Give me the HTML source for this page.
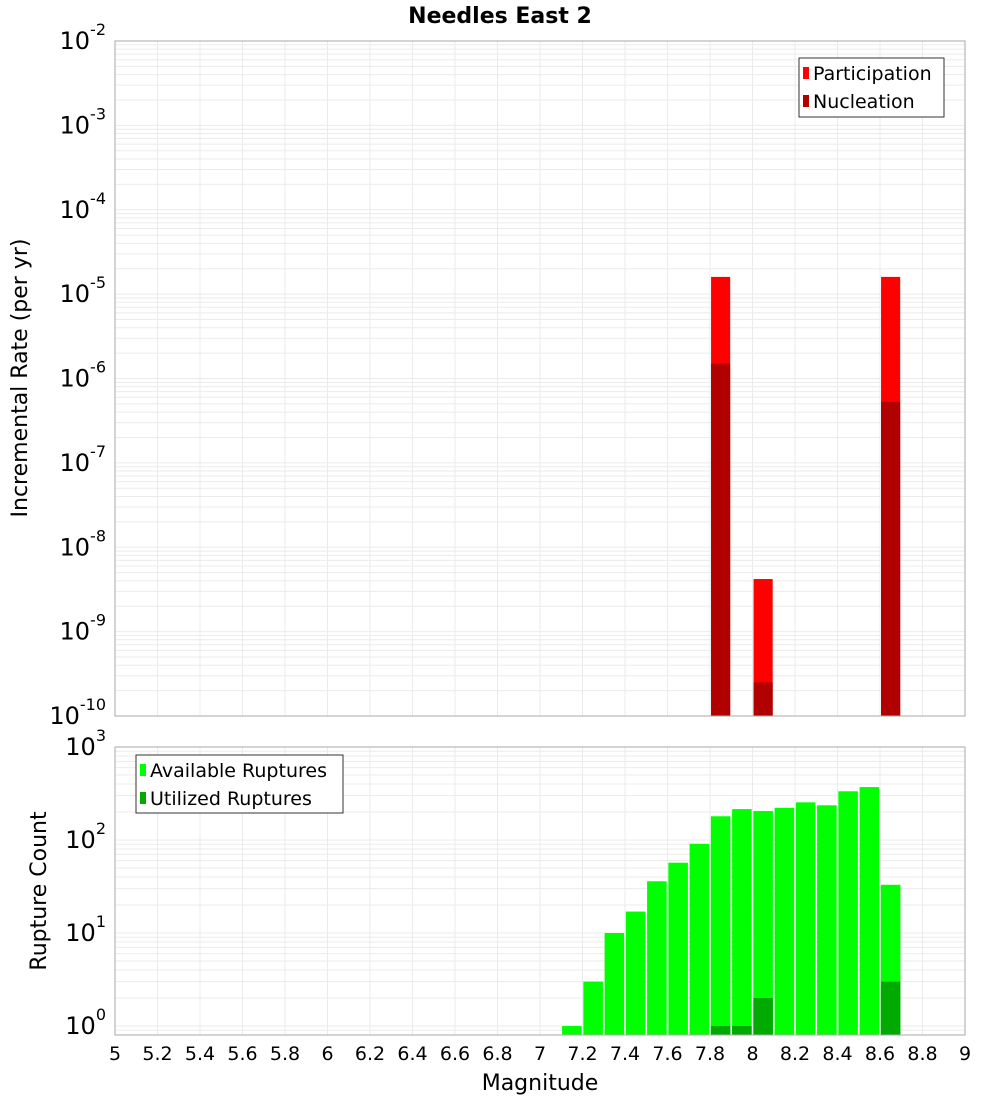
<!DOCTYPE html>
<html><head><meta charset="utf-8"><style>
body{margin:0;background:#fff;font-family:"Liberation Sans","DejaVu Sans",sans-serif}
svg text{font-family:"DejaVu Sans","Liberation Sans",sans-serif}
</style></head><body>
<svg id="c" width="1000" height="1100" xmlns="http://www.w3.org/2000/svg">
<text x="500" y="23" text-anchor="middle" font-size="22" font-weight="bold">Needles East 2</text>
<g id="top"></g>
<g id="bot"></g>
<text transform="translate(27,378) rotate(-90)" text-anchor="middle" font-size="22">Incremental Rate (per yr)</text>
<text transform="translate(46,891) rotate(-90)" text-anchor="middle" font-size="22">Rupture Count</text>
<text x="540" y="1090" text-anchor="middle" font-size="22">Magnitude</text>
</svg>
<script>
const partMags=[7.85,8.05,8.65];
const partVals=[1.6e-5,4.2e-9,1.6e-5];
const nucMags=[7.85,8.05,8.65];
const nucVals=[1.5e-6,2.5e-10,5.3e-7];
const availMags=[7.15,7.25,7.35,7.45,7.55,7.65,7.75,7.85,7.95,8.05,8.15,8.25,8.35,8.45,8.55,8.65];
const availVals=[1,3,10,17,36,57,91,180,215,205,222,254,236,334,371,33];
const usedMags=[7.85,7.95,8.05,8.65];
const usedVals=[1,1,2,3];
const xTicks=[5,5.2,5.4,5.6,5.8,6,6.2,6.4,6.6,6.8,7,7.2,7.4,7.6,7.8,8,8.2,8.4,8.6,8.8,9];
const topExps=[-10,-9,-8,-7,-6,-5,-4,-3,-2];
const botExps=[0,1,2,3];

const NS="http://www.w3.org/2000/svg";
const X0=115,X1=965;
const xs=m=>X0+(m-5)/4*(X1-X0);
function mk(p,t,a){const e=document.createElementNS(NS,t);for(const k in a)e.setAttribute(k,a[k]);p.appendChild(e);return e;}
function panel(g,top,bottom,yf,lo,hi,exps,name){
  mk(g,'rect',{x:X0,y:top,width:X1-X0,height:bottom-top,fill:'#fff'});
  for(let d=lo;d<hi;d++)for(let k=1;k<10;k++){const y=yf(k*Math.pow(10,d));if(y<top||y>bottom)continue;
    const l=mk(g,'line',{x1:X0,x2:X1,y1:y,y2:y,stroke:'#ebebeb','stroke-width':1});
    
    }
  xTicks.forEach(t=>{const l=mk(g,'line',{x1:xs(t),x2:xs(t),y1:top,y2:bottom,stroke:'#ebebeb','stroke-width':1});
    
    });
  exps.forEach(e=>{const y=yf(Math.pow(10,e));const t=mk(g,'text',{x:106,y:y+8,'text-anchor':'end','font-size':24});
    
    
    t.textContent='10';const s=mk(t,'tspan',{dy:-14,'font-size':16});s.textContent=String(e);
  });
}
function bars(g,mags,vals,yf,base,w,col,name){
  mags.forEach((m,i)=>{const y=yf(vals[i]);const r=mk(g,'rect',{x:xs(m-w/2),y:y,width:xs(m+w/2)-xs(m-w/2),height:base-y,fill:col});
    
    });
}
// top
const T=document.getElementById('top');
const yT=v=>41+(-2-Math.log10(v))*84.375;
panel(T,41,716,yT,-10,-2,topExps,'rate');
bars(T,partMags,partVals,yT,716,0.09,'#ff0000','participation-bar');
bars(T,nucMags,nucVals,yT,716,0.09,'#b00000','nucleation-bar');
mk(T,'rect',{x:X0,y:41,width:X1-X0,height:675,fill:'none',stroke:'#aaa'});
const lg1=mk(T,'g',{});
mk(lg1,'rect',{x:799,y:58,width:145,height:59,fill:'#fff',stroke:'#333'});
mk(lg1,'rect',{x:803,y:67,width:6,height:12,fill:'#ff0000'});
mk(lg1,'rect',{x:803,y:95,width:6,height:12,fill:'#b00000'});
mk(lg1,'text',{x:813,y:80,'font-size':19}).textContent='Participation';
mk(lg1,'text',{x:813,y:108,'font-size':19}).textContent='Nucleation';
// bottom
const B=document.getElementById('bot');
const yB=v=>1026-Math.log10(v)*93;
panel(B,747,1035,yB,-1,3,botExps,'count');
bars(B,availMags,availVals,yB,1035,0.092,'#00ff00','available-bar');
bars(B,usedMags,usedVals,yB,1035,0.092,'#00aa00','utilized-bar');
mk(B,'rect',{x:X0,y:747,width:X1-X0,height:288,fill:'none',stroke:'#aaa'});
xTicks.forEach(t=>{const e=mk(B,'text',{x:xs(t),y:1060,'text-anchor':'middle','font-size':19});
  
  
  e.textContent=String(t);});
const lg2=mk(B,'g',{});
mk(lg2,'rect',{x:136,y:755,width:207,height:58,fill:'#fff',stroke:'#333'});
mk(lg2,'rect',{x:140,y:764,width:6,height:12,fill:'#00ff00'});
mk(lg2,'rect',{x:140,y:792,width:6,height:12,fill:'#00aa00'});
mk(lg2,'text',{x:150,y:777,'font-size':19}).textContent='Available Ruptures';
mk(lg2,'text',{x:150,y:805,'font-size':19}).textContent='Utilized Ruptures';
</script>
</body></html>
